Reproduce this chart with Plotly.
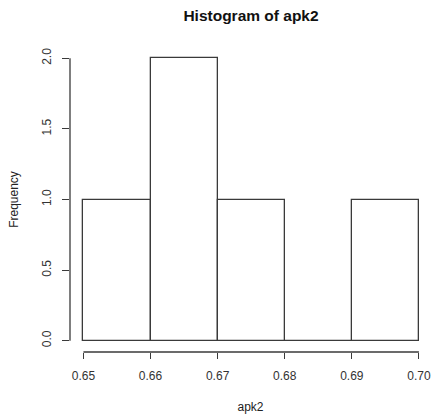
import plotly.graph_objects as go

# Data
bin_edges = [0.65, 0.66, 0.67, 0.68, 0.69, 0.70]
counts = [1, 2, 1, 0, 1]
x_ticks = [0.65, 0.66, 0.67, 0.68, 0.69, 0.70]
x_tick_labels = ["0.65", "0.66", "0.67", "0.68", "0.69", "0.70"]
y_ticks = [0.0, 0.5, 1.0, 1.5, 2.0]
y_tick_labels = ["0.0", "0.5", "1.0", "1.5", "2.0"]

centers = [(a + b) / 2 for a, b in zip(bin_edges[:-1], bin_edges[1:])]
widths = [b - a for a, b in zip(bin_edges[:-1], bin_edges[1:])]

FONT = "Liberation Sans, Arial, sans-serif"
LINE = "#3a3a3a"

fig = go.Figure()
fig.add_trace(go.Bar(
    x=centers, y=counts, width=widths,
    marker=dict(color="white", line=dict(color=LINE, width=1.3)),
    showlegend=False, hoverinfo="x+y",
))

fig.update_layout(
    width=431, height=418,
    margin=dict(l=70, r=0, t=47, b=66),
    paper_bgcolor="white", plot_bgcolor="white",
    bargap=0,
    font=dict(family=FONT, size=12, color="#222"),
    title=dict(text="<b>Histogram of apk2</b>", x=251 / 431, xanchor="center",
               y=1 - 16 / 418, yanchor="middle",
               font=dict(family=FONT, size=15.5, color="#111")),
    xaxis=dict(range=[0.648, 0.648 + 361 / 6710], tickvals=x_ticks, ticktext=x_tick_labels,
               ticks="outside", ticklen=6, tickwidth=1.2, tickcolor=LINE,
               showgrid=False, zeroline=False, showline=False,
               ticklabelstandoff=7,
               title=dict(text="apk2", standoff=20, font=dict(size=12)),
               tickfont=dict(size=12, color="#333")),
    yaxis=dict(range=[-0.08, 2.08], tickvals=y_ticks, ticktext=y_tick_labels,
               ticks="outside", ticklen=7, tickwidth=1.2, tickcolor=LINE,
               showgrid=False, zeroline=False, showline=False,
               tickangle=-90, ticklabelstandoff=6,
               title=dict(text="Frequency", standoff=19, font=dict(size=12)),
               tickfont=dict(size=12, color="#333")),
)

# R-style axis lines spanning first to last tick
fig.add_shape(type="line", xref="x", yref="paper", x0=x_ticks[0], x1=x_ticks[-1], y0=0, y1=0,
              line=dict(color=LINE, width=1.3))
fig.add_shape(type="line", xref="paper", yref="y", x0=0, x1=0, y0=y_ticks[0], y1=y_ticks[-1],
              line=dict(color=LINE, width=1.3))

fig.write_html("out.html")
